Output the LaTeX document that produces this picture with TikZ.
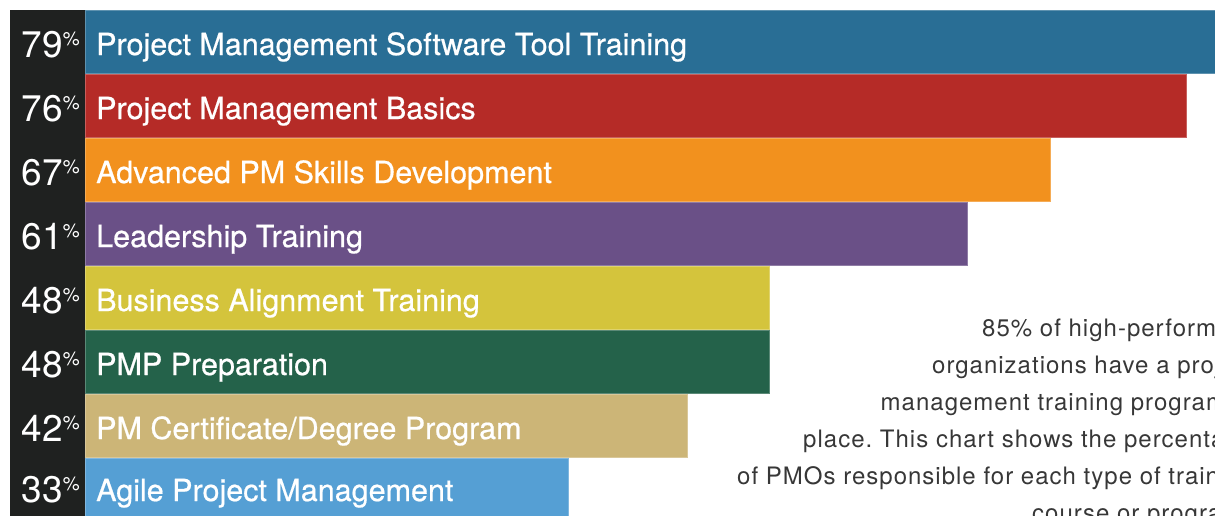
\documentclass[tikz,border=0pt]{standalone}
\usepackage{fontspec}
\setmainfont{TeX Gyre Heros}
\newfontfamily\labelfont{TeX Gyre Heros}[FakeBold=0.6]
\newfontfamily\parafont{TeX Gyre Heros}[LetterSpace=4.2]
\frenchspacing
\definecolor{colbg}{RGB}{31,33,32}
\definecolor{cblue}{RGB}{41,110,149}
\definecolor{cred}{RGB}{181,43,39}
\definecolor{corange}{RGB}{242,145,30}
\definecolor{cpurple}{RGB}{106,80,135}
\definecolor{cyellow}{RGB}{212,196,60}
\definecolor{cgreen}{RGB}{36,98,74}
\definecolor{ctan}{RGB}{204,181,119}
\definecolor{clblue}{RGB}{85,159,212}
\definecolor{paragray}{RGB}{55,55,55}
\newcommand\pcsign{\raisebox{11.5pt}{\fontsize{19}{19}\selectfont\%}}
\begin{document}
\begin{tikzpicture}[x=1pt,y=-1pt,
  pct/.style={anchor=base west,inner sep=0pt,text=white,font=\fontsize{37}{37}\selectfont},
  lbl/.style={anchor=base west,inner sep=0pt,text=white,font=\labelfont\fontsize{30.5}{30.5}\selectfont},
  para/.style={anchor=base west,inner sep=0pt,text=paragray,font=\parafont\fontsize{24}{24}\selectfont\frenchspacing},
  barbox/.style={fill=#1,draw=#1!75!white,line width=0.6pt}]
\useasboundingbox (0,0) rectangle (1215,515);
\begin{scope}
\clip (0,0) rectangle (1215,515);
\fill[colbg] (10,10) rectangle (85,520);
\path[barbox=cblue]   (85,10)  rectangle (1225,73.5);
\path[barbox=cred]    (85,74)  rectangle (1186.5,137.5);
\path[barbox=corange] (85,138) rectangle (1050,201.5);
\path[barbox=cpurple] (85,202) rectangle (967,265.5);
\path[barbox=cyellow] (85,266) rectangle (769.5,329.5);
\path[barbox=cgreen]  (85,330) rectangle (769.5,393.5);
\path[barbox=ctan]    (85,394) rectangle (687,457.5);
\path[barbox=clblue]  (85,458) rectangle (568,525);

\node[pct] (p1) at (21.5,57)  {79\pcsign};
\node[pct] (p2) at (21.5,121) {76\pcsign};
\node[pct] (p3) at (21.5,185) {67\pcsign};
\node[pct] (p4) at (21.5,249) {61\pcsign};
\node[pct] (p5) at (21.5,313) {48\pcsign};
\node[pct] (p6) at (21.5,377) {48\pcsign};
\node[pct] (p7) at (21.5,441) {42\pcsign};
\node[pct] (p8) at (21.5,502) {33\pcsign};

\node[lbl] (l1) at (96,55)  {Project Management Software Tool Training};
\node[lbl] (l2) at (96,119) {Project Management Basics};
\node[lbl] (l3) at (96,183) {Advanced PM Skills Development};
\node[lbl] (l4) at (96,247) {Leadership Training};
\node[lbl] (l5) at (96,311) {Business Alignment Training};
\node[lbl] (l6) at (96,375) {PMP Preparation};
\node[lbl] (l7) at (96,439) {PM Certificate/Degree Program};
\node[lbl] (l8) at (96,501) {Agile Project Management};

\node[para] (t1) at (982,336) {85\% of high-performing};
\node[para] (t2) at (932,373) {organizations have a project};
\node[para] (t3) at (880.5,410) {management training program in};
\node[para] (t4) at (803,447) {place. This chart shows the percentage};
\node[para] (t5) at (737,484) {of PMOs responsible for each type of training};
\node[para] (t6) at (1032,521) {course or program.};
\end{scope}
\end{tikzpicture}
\end{document}
